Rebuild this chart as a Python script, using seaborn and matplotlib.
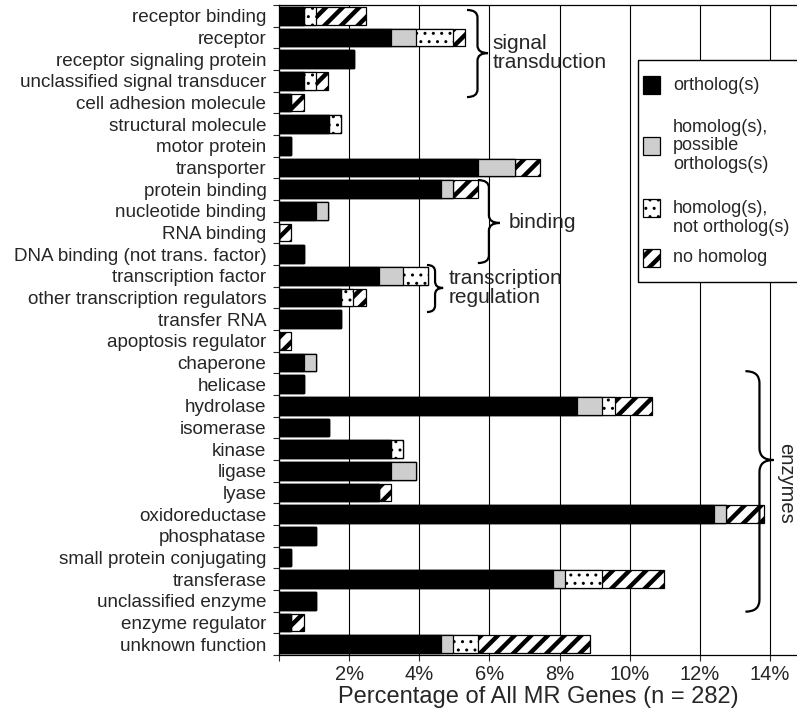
import matplotlib
matplotlib.use('Agg')
import matplotlib.pyplot as plt
import matplotlib.patches as mpatches
from matplotlib.path import Path
import numpy as np
import pandas as pd
import seaborn as sns

# categories (top to bottom)
categories = ['receptor binding', 'receptor', 'receptor signaling protein',
              'unclassified signal transducer', 'cell adhesion molecule',
              'structural molecule', 'motor protein', 'transporter',
              'protein binding', 'nucleotide binding', 'RNA binding',
              'DNA binding (not trans. factor)', 'transcription factor',
              'other transcription regulators', 'transfer RNA',
              'apoptosis regulator', 'chaperone', 'helicase', 'hydrolase',
              'isomerase', 'kinase', 'ligase', 'lyase', 'oxidoreductase',
              'phosphatase', 'small protein conjugating', 'transferase',
              'unclassified enzyme', 'enzyme regulator', 'unknown function']

# percentage of all MR genes (n = 282)
ortholog = [0.71, 3.19, 2.13, 0.71, 0.35, 1.42, 0.35, 5.67, 4.61, 1.06, 0.00,
            0.71, 2.84, 1.77, 1.77, 0.00, 0.71, 0.71, 8.51, 1.42, 3.19, 3.19,
            2.84, 12.41, 1.06, 0.35, 7.80, 1.06, 0.35, 4.61]
possible = [0.00, 0.71, 0.00, 0.00, 0.00, 0.00, 0.00, 1.06, 0.35, 0.35, 0.00,
            0.00, 0.71, 0.00, 0.00, 0.00, 0.35, 0.00, 0.71, 0.00, 0.00, 0.71,
            0.00, 0.35, 0.00, 0.00, 0.35, 0.00, 0.00, 0.35]
not_ortholog = [0.35, 1.06, 0.00, 0.35, 0.00, 0.35, 0.00, 0.00, 0.00, 0.00, 0.00,
                0.00, 0.71, 0.35, 0.00, 0.00, 0.00, 0.00, 0.35, 0.00, 0.35, 0.00,
                0.00, 0.00, 0.00, 0.00, 1.06, 0.00, 0.00, 0.71]
no_homolog = [1.42, 0.35, 0.00, 0.35, 0.35, 0.00, 0.00, 0.71, 0.71, 0.00, 0.35,
              0.00, 0.00, 0.35, 0.00, 0.35, 0.00, 0.00, 1.06, 0.00, 0.00, 0.00,
              0.35, 1.06, 0.00, 0.00, 1.77, 0.00, 0.35, 3.19]

legend_labels = ['ortholog(s)', 'homolog(s),\npossible\northologs(s)',
                 'homolog(s),\nnot ortholog(s)', 'no homolog']
xticks = [0, 2, 4, 6, 8, 10, 12, 14]
xticklabels = ['', '2%', '4%', '6%', '8%', '10%', '12%', '14%']

sns.set_style('ticks')
plt.rcParams['font.family'] = ['Liberation Sans', 'DejaVu Sans']

GRAY = '#cecece'
HATCH_LW = 3.2

df = pd.DataFrame({'category': categories, 'ortholog': ortholog,
                   'possible': possible, 'not_ortholog': not_ortholog,
                   'no_homolog': no_homolog})
# stacked bars drawn as overlaid cumulative bars
df['c1'] = df['ortholog']
df['c2'] = df['c1'] + df['possible']
df['c3'] = df['c2'] + df['not_ortholog']
df['c4'] = df['c3'] + df['no_homolog']

fig = plt.figure(figsize=(7.97, 7.11), dpi=100)
ax = fig.add_axes([279 / 797, 56 / 711, (797 - 279) / 797, 650 / 711])

layers = [('c4', 'white', '//', HATCH_LW),
          ('c3', 'white', '..', 1.0),
          ('c2', GRAY, None, 1.0),
          ('c1', 'black', None, 1.0)]
for col, fc, hatch, hlw in layers:
    with plt.rc_context({'hatch.linewidth': hlw}):
        sns.barplot(data=df, x=col, y='category', orient='h', color=fc,
                    saturation=1, edgecolor='black', linewidth=0.9,
                    hatch=hatch, width=0.82, errorbar=None, ax=ax)

ax.set_xlim(0, (797 - 279) / 35.07)
ax.set_ylim(len(categories) - 0.5, -0.5)
ax.set_xticks(xticks)
ax.set_xticklabels(xticklabels, fontsize=14.5)
ax.set_xlabel('Percentage of All MR Genes (n = 282)', fontsize=17, labelpad=2)
ax.set_ylabel('')
ax.tick_params(axis='y', which='major', length=0, labelsize=13.6, pad=9)
ax.set_yticks(np.arange(len(categories) + 1) - 0.5, minor=True)
ax.tick_params(axis='y', which='minor', length=4, width=0.8)
ax.tick_params(axis='x', length=4, width=0.8, pad=3)
ax.xaxis.grid(True, color='black', linewidth=0.8)
ax.set_axisbelow(True)
for s in ['left', 'bottom', 'top']:
    ax.spines[s].set_linewidth(0.9)
    ax.spines[s].set_color('black')
ax.spines['right'].set_visible(False)


def brace(ax, xl, xt, y0, y1, yt, r=0.35):
    xm = (xl + xt) / 2
    verts = [(xl, y0), (xm, y0), (xm, y0 + r),
             (xm, yt - r), (xm, yt), (xt, yt),
             (xm, yt), (xm, yt + r),
             (xm, y1 - r), (xm, y1), (xl, y1)]
    codes = [Path.MOVETO, Path.CURVE3, Path.CURVE3,
             Path.LINETO, Path.CURVE3, Path.CURVE3,
             Path.CURVE3, Path.CURVE3,
             Path.LINETO, Path.CURVE3, Path.CURVE3]
    ax.add_patch(mpatches.PathPatch(Path(verts, codes), fill=False,
                                    lw=1.6, color='black', clip_on=False))


# group braces
brace(ax, 5.36, 5.96, -0.27, 3.75, 1.72)
ax.text(6.1, 1.72, 'signal\ntransduction', fontsize=15, ha='left', va='center',
        linespacing=1.0)
brace(ax, 5.67, 6.30, 7.58, 11.41, 9.56)
ax.text(6.55, 9.56, 'binding', fontsize=15, ha='left', va='center')
brace(ax, 4.22, 4.68, 11.5, 13.67, 12.56, r=0.3)
ax.text(4.85, 12.56, 'transcription\nregulation', fontsize=15, ha='left',
        va='center', linespacing=1.0)
brace(ax, 13.3, 14.1, 16.4, 27.5, 20.5, r=0.55)
ax.text(14.46, 21.6, 'enzymes', fontsize=14.5, ha='center', va='center',
        rotation=270, clip_on=False)

# legend, drawn in figure pixel coordinates
lax = fig.add_axes([0, 0, 1, 1])
lax.set_xlim(0, 797)
lax.set_ylim(711, 0)
lax.axis('off')
lax.add_patch(mpatches.Rectangle((638, 60), 200, 222, facecolor='white',
                                 edgecolor='black', linewidth=1.0))
swatch_y = [85, 146, 208, 258]
text_y = [85, 146, 218, 258]
swatch_style = [('black', None, 1.0), (GRAY, None, 1.0),
                ('white', '..', 1.0), ('white', '//', HATCH_LW)]
for (fc, hatch, hlw), sy, ty, lab in zip(swatch_style, swatch_y, text_y,
                                         legend_labels):
    with plt.rc_context({'hatch.linewidth': hlw}):
        lax.add_patch(mpatches.Rectangle((643, sy - 9), 17, 18, facecolor=fc,
                                         edgecolor='black', hatch=hatch,
                                         linewidth=0.9))
    lax.text(673, ty, lab, fontsize=13, ha='left', va='center',
             linespacing=1.15)

fig.savefig('out.png', dpi=100)
